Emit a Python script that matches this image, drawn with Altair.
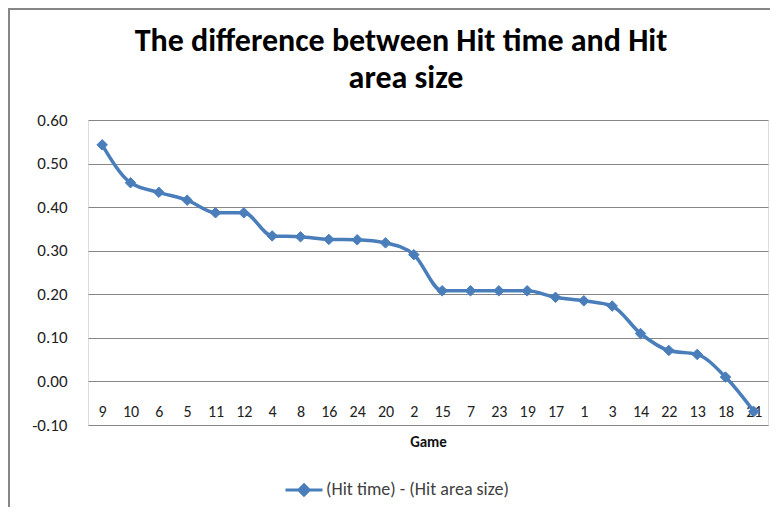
import altair as alt
import pandas as pd

games = ["9", "10", "6", "5", "11", "12", "4", "8", "16", "24", "20", "2",
         "15", "7", "23", "19", "17", "1", "3", "14", "22", "13", "18", "21"]
diff = [0.543, 0.456, 0.434, 0.416, 0.387, 0.387, 0.334, 0.332, 0.326, 0.325,
        0.318, 0.291, 0.208, 0.208, 0.208, 0.208, 0.193, 0.185, 0.173, 0.110,
        0.071, 0.062, 0.010, -0.069]
series_name = "(Hit time) - (Hit area size)"
title_lines = ["The difference between Hit time and Hit", "area size"]
y_ticks = [-0.1, 0.0, 0.1, 0.2, 0.3, 0.4, 0.5, 0.6]

df = pd.DataFrame({"Game": games, "Value": diff, "Series": [series_name] * len(games)})

BLUE = "#4a7ebb"
GRID = "#868686"
FONT = "Carlito, Lato, sans-serif"

x_enc = alt.X("Game:N", sort=games,
              scale=alt.Scale(type="point", padding=0.5),
              axis=alt.Axis(title="Game", labelAngle=0, ticks=False, domain=False,
                            labelPadding=-22, labelFontSize=16, labelFont=FONT,
                            labelColor="#222", titleFont=FONT, titleFontSize=15,
                            titleFontWeight="bold", titleColor="#111",
                            titleY=16, titleBaseline="middle", grid=False))
y_enc = alt.Y("Value:Q",
              scale=alt.Scale(domain=[-0.1, 0.6], nice=False, zero=False),
              axis=alt.Axis(title=None, values=y_ticks, ticks=False, domain=False,
                            labelExpr="replace(format(datum.value, '.2f'), '\u2212', '-')",
                            labelPadding=21, labelFontSize=17, labelFont=FONT,
                            labelColor="#222", grid=True, gridColor=GRID,
                            gridWidth=1))

color_enc = alt.Color("Series:N",
                      scale=alt.Scale(range=[BLUE]),
                      legend=alt.Legend(title=None, orient="none", legendX=196, legendY=350,
                                        symbolType="M-1,0H1M0,-0.28L0.28,0L0,0.28L-0.28,0Z",
                                        symbolSize=1369, symbolStrokeWidth=3,
                                        symbolFillColor=BLUE, symbolStrokeColor=BLUE,
                                        labelFont=FONT, labelFontSize=18, labelLimit=400,
                                        labelColor="#404040", labelOffset=2))

line = alt.Chart(df).mark_line(interpolate="monotone", strokeWidth=3.5).encode(
    x=x_enc, y=y_enc, color=color_enc)
pts = alt.Chart(df).mark_point(shape="diamond", filled=True, size=110, opacity=1,
                               stroke=BLUE, strokeWidth=1).encode(
    x=x_enc, y=y_enc, color=alt.Color("Series:N", scale=alt.Scale(range=[BLUE]), legend=None))

one = pd.DataFrame({"k": [0]})
left_border = alt.Chart(one).mark_rule(color=GRID, strokeWidth=2).encode(
    x=alt.value(-79), y=alt.value(-112), y2=alt.value(390))
top_border = alt.Chart(one).mark_rule(color=GRID, strokeWidth=2).encode(
    x=alt.value(-80), x2=alt.value(700), y=alt.value(-111))

title_df1 = pd.DataFrame({"t": [title_lines[0]]})
title_df2 = pd.DataFrame({"t": [title_lines[1]]})
title_style = dict(font=FONT, fontSize=32, fontWeight="bold", color="#000",
                   align="center", baseline="middle")
title1 = alt.Chart(title_df1).mark_text(**title_style).encode(
    text="t:N", x=alt.value(313), y=alt.value(-79))
title2 = alt.Chart(title_df2).mark_text(**title_style).encode(
    text="t:N", x=alt.value(318), y=alt.value(-42))

chart = alt.layer(left_border, top_border, title1, title2, line, pts).properties(
    width=680, height=305,
    autosize=alt.AutoSizeParams(type="none"),
    padding={"left": 80, "top": 112, "right": 2, "bottom": 82},
).configure_view(stroke=None).configure(background="white")

chart.save("out.html", embed_options={"renderer": "svg", "actions": False})
